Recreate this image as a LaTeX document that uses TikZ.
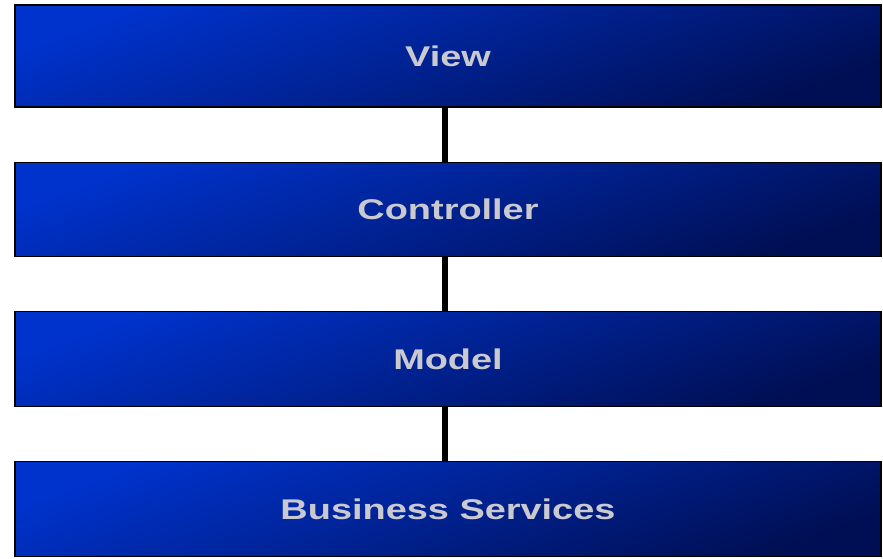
\documentclass[tikz,border=0pt]{standalone}
\usepackage{fontspec}
\setmainfont{Liberation Sans}
\newfontfamily\layerfont[FakeStretch=1.33]{Liberation Sans}
\usetikzlibrary{calc}
\definecolor{LayerTopClr}{rgb}{0,0.2,0.8}
\definecolor{LayerBotClr}{rgb}{0,0.06,0.33}
\definecolor{LabelClr}{rgb}{0.79,0.79,0.81}

\begin{document}
\begin{tikzpicture}[x=1pt,y=1pt,
  layer/.style={draw=black,line width=1.8pt,inner sep=0pt,outer sep=0pt,
    minimum width=866pt,shading=axis,top color=LayerTopClr,bottom color=LayerBotClr,
    shading angle=20,text=LabelClr,font=\layerfont\bfseries\fontsize{28.5}{30}\selectfont},
  link/.style={line width=6.5pt,color=black}]
\useasboundingbox (0,0) rectangle (883,559);

\node[layer,minimum height=102pt] (View) at (448,503) {View};
\node[layer,minimum height=94pt] (Controller) at (448,349.5) {Controller};
\node[layer,minimum height=95pt] (Model) at (448,200) {Model};
\node[layer,minimum height=95pt] (Services) at (448,50) {Business Services};

\draw[link] ($(View.south)+(-3,0)$) -- ($(Controller.north)+(-3,0)$);
\draw[link] ($(Controller.south)+(-3,0)$) -- ($(Model.north)+(-3,0)$);
\draw[link] ($(Model.south)+(-3,0)$) -- ($(Services.north)+(-3,0)$);

\end{tikzpicture}
\end{document}
